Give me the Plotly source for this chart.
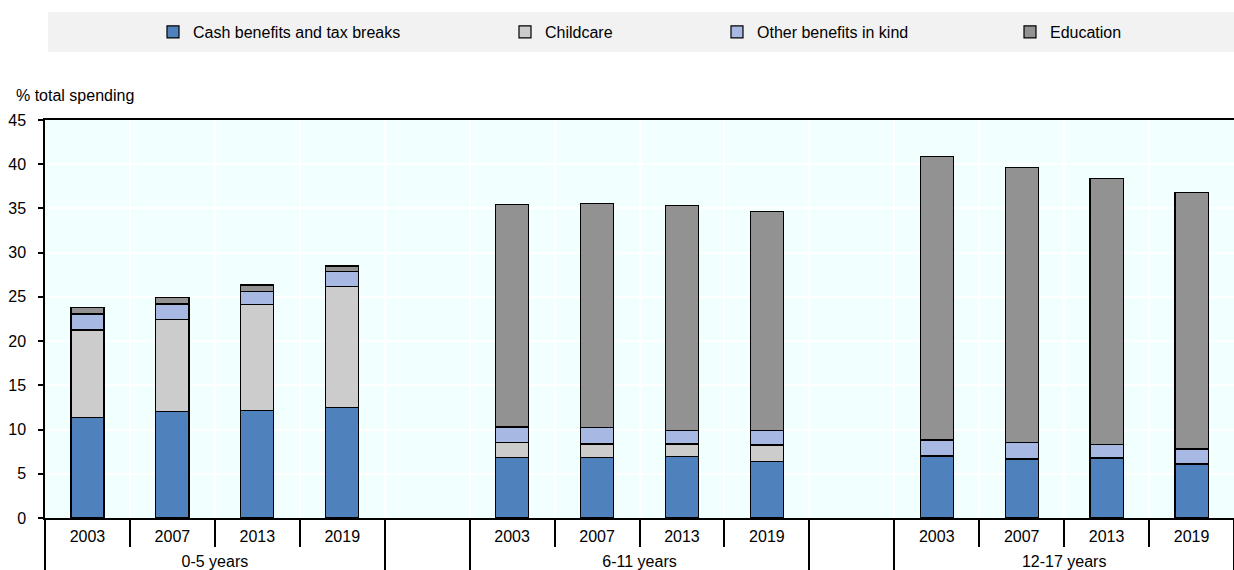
import plotly.graph_objects as go

age_groups = ["0-5 years", "6-11 years", "12-17 years"]
years = ["2003", "2007", "2013", "2019"]

cash = [11.35, 12.0, 12.2, 12.5, 6.8, 6.8, 6.94, 6.37, 6.92, 6.67, 6.75, 6.1]
childcare = [9.9, 10.4, 11.9, 13.7, 1.7, 1.56, 1.42, 1.88, 0.1, 0.0, 0.1, 0.0]
other_kind = [1.82, 1.8, 1.5, 1.7, 1.8, 1.84, 1.57, 1.68, 1.8, 1.83, 1.5, 1.7]
education = [0.73, 0.7, 0.75, 0.6, 25.15, 25.35, 25.37, 24.77, 32.05, 31.15, 30.04, 29.0]

series_names = ["Cash benefits and tax breaks", "Childcare", "Other benefits in kind", "Education"]
series_values = [cash, childcare, other_kind, education]
colors = ["#4F81BD", "#CCCCCC", "#A7B9E3", "#929292"]

FONT = "Liberation Sans Narrow, Arial Narrow, Liberation Sans, Arial, sans-serif"

# invisible tall spacer so the age-group label row sits lower (as in the reference)
PAD = "<span style='font-size:23px'>\u200a</span>"

# build multicategory x with empty gap slots between age groups
lvl1, lvl2, idx = [], [], []
for gi, g in enumerate(age_groups):
    for yi, y in enumerate(years):
        lvl1.append(g)
        lvl2.append(PAD + y + PAD)
        idx.append(gi * len(years) + yi)
    if gi < len(age_groups) - 1:
        lvl1.append(" " * (gi + 1))
        lvl2.append(" ")
        idx.append(None)

fig = go.Figure()
legend_ids = ["legend", "legend2", "legend3", "legend4"]
for name, vals, col, lg in zip(series_names, series_values, colors, legend_ids):
    yv = [vals[i] if i is not None else None for i in idx]
    fig.add_trace(go.Bar(
        x=[lvl1, lvl2], y=yv, name=name, legend=lg,
        marker=dict(color=col, line=dict(color="black", width=1.2)),
        width=0.39,
    ))

W, H = 1234, 570
plot_left, plot_w = 45, 1189
plot_bottom, plot_h = 518, 398
text_starts = [193, 545, 757, 1050]
legend_cfg = {}
for lg, tx in zip(legend_ids, text_starts):
    legend_cfg[lg] = dict(
        xref="container", yref="container",
        x=(tx - 40) / W, xanchor="left",
        y=1 - 32 / H, yanchor="middle",
        bgcolor="rgba(0,0,0,0)", borderwidth=0,
        font=dict(family=FONT, size=16, color="black"),
        orientation="h", itemclick=False,
    )

fig.update_layout(
    width=W, height=H,
    margin=dict(l=45, r=0, t=120, b=52, autoexpand=False),
    paper_bgcolor="white",
    plot_bgcolor="#F2FFFF",
    barmode="stack",
    font=dict(family=FONT, size=16, color="black"),
    showlegend=True,
    **legend_cfg,
    xaxis=dict(
        type="multicategory", automargin=False,
        showline=True, linecolor="black", linewidth=1.5, mirror=True,
        ticks="outside", tickson="boundaries", ticklen=27, tickwidth=1.5, tickcolor="black",
        ticklabelstandoff=3,
        showgrid=True, gridcolor="white", gridwidth=1.5,
        showdividers=True, dividercolor="black", dividerwidth=1.5,
        tickfont=dict(family=FONT, size=16, color="black"),
        range=[-0.5, 13.5],
    ),
    yaxis=dict(
        range=[0, 45], dtick=5, tick0=0, automargin=False,
        showline=True, linecolor="black", linewidth=1.5,
        ticks="outside", ticklen=5, tickwidth=1.5, tickcolor="black",
        ticklabelstandoff=9,
        showgrid=True, gridcolor="white", gridwidth=1.5,
        zeroline=False,
        tickfont=dict(family=FONT, size=16, color="black"),
    ),
    shapes=[dict(
        type="rect", xref="paper", yref="paper", layer="below",
        x0=(48 - plot_left) / plot_w, x1=1.0,
        y0=(plot_bottom - 52) / plot_h, y1=(plot_bottom - 12) / plot_h,
        fillcolor="#F2F2F2", line=dict(width=0),
    )],
    annotations=[dict(
        text="% total spending", xref="paper", yref="paper",
        x=(14 - plot_left) / plot_w, xanchor="left",
        y=(plot_bottom - 96) / plot_h, yanchor="middle",
        showarrow=False, font=dict(family=FONT, size=16, color="black"),
    )],
)

fig.write_html(
    "out.html",
    config={"displayModeBar": False},
    post_script="document.body.style.margin='0';document.body.style.overflow='hidden';",
)
